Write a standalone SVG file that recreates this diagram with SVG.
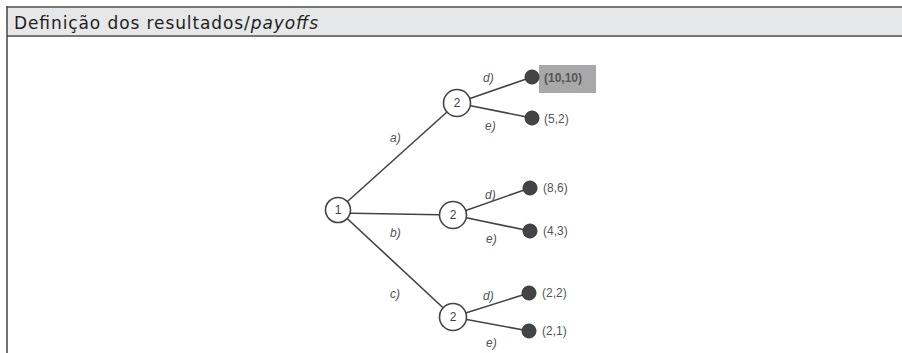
<svg xmlns="http://www.w3.org/2000/svg" width="902" height="353" viewBox="0 0 902 353">
<style>
.hdr{font-family:"DejaVu Sans","Noto Sans",sans-serif;font-size:17px;fill:#231f20}
.edge{stroke:#444;stroke-width:1.6;fill:none}
.dec{fill:#fff;stroke:#444;stroke-width:1.6}
.leaf{fill:#444;stroke:#333;stroke-width:1}
.num{font-family:"Liberation Sans",Arial,sans-serif;font-size:12px;fill:#444;text-anchor:middle;dominant-baseline:central}
.lbl{font-family:"Liberation Sans",Arial,sans-serif;font-size:12px;fill:#555;font-style:italic}
.pay{font-family:"Liberation Sans",Arial,sans-serif;font-size:12px;fill:#555;dominant-baseline:central}
</style>
<rect x="0" y="0" width="902" height="353" fill="#fff"/>
<rect x="7" y="7" width="895" height="29" fill="#e6e7e8"/>
<line x1="7" y1="7" x2="902" y2="7" stroke="#777" stroke-width="2"/>
<line x1="7" y1="36" x2="902" y2="36" stroke="#777" stroke-width="2"/>
<line x1="7" y1="6" x2="7" y2="353" stroke="#444" stroke-width="1.5"/>
<text class="hdr" x="14" y="29" textLength="304" lengthAdjust="spacing">Definição dos resultados/<tspan font-style="italic">payoffs</tspan></text>
<rect x="539" y="65" width="57" height="28" fill="#a8a8a8"/>
<g id="connectors">
<line class="edge" x1="338" y1="210" x2="457" y2="103"/>
<line class="edge" x1="338" y1="213" x2="453" y2="215"/>
<line class="edge" x1="338" y1="210" x2="453" y2="317"/>
<line class="edge" x1="457" y1="103" x2="532" y2="77"/>
<line class="edge" x1="457" y1="103" x2="532" y2="118"/>
<line class="edge" x1="453" y1="215" x2="530" y2="188"/>
<line class="edge" x1="453" y1="215" x2="530" y2="231"/>
<line class="edge" x1="453" y1="317" x2="529" y2="293"/>
<line class="edge" x1="453" y1="317" x2="529" y2="331"/>
</g>
<g id="n1"><circle class="dec" cx="338" cy="210" r="12.5"/><text class="num" x="338" y="210">1</text></g>
<g id="n2a"><circle class="dec" cx="457" cy="103" r="13.5"/><text class="num" x="457" y="103">2</text></g>
<g id="n2b"><circle class="dec" cx="453" cy="215" r="13.5"/><text class="num" x="453" y="215">2</text></g>
<g id="n2c"><circle class="dec" cx="453" cy="317" r="13.5"/><text class="num" x="453" y="317">2</text></g>
<g id="l1"><circle class="leaf" cx="532" cy="77" r="7"/><text class="pay" x="544" y="78" font-weight="bold">(10,10)</text></g>
<g id="l2"><circle class="leaf" cx="532" cy="118" r="7"/><text class="pay" x="544" y="119">(5,2)</text></g>
<g id="l3"><circle class="leaf" cx="530" cy="188" r="7"/><text class="pay" x="543" y="188">(8,6)</text></g>
<g id="l4"><circle class="leaf" cx="530" cy="231" r="7"/><text class="pay" x="543" y="231">(4,3)</text></g>
<g id="l5"><circle class="leaf" cx="529" cy="293" r="7"/><text class="pay" x="542" y="293">(2,2)</text></g>
<g id="l6"><circle class="leaf" cx="529" cy="331" r="7"/><text class="pay" x="542" y="331">(2,1)</text></g>
<g id="labels">
<text class="lbl" x="483" y="82">d)</text>
<text class="lbl" x="485" y="130">e)</text>
<text class="lbl" x="390" y="142">a)</text>
<text class="lbl" x="390" y="237">b)</text>
<text class="lbl" x="485" y="199">d)</text>
<text class="lbl" x="486" y="243">e)</text>
<text class="lbl" x="390" y="298">c)</text>
<text class="lbl" x="483" y="300">d)</text>
<text class="lbl" x="486" y="347">e)</text>
</g>
</svg>
